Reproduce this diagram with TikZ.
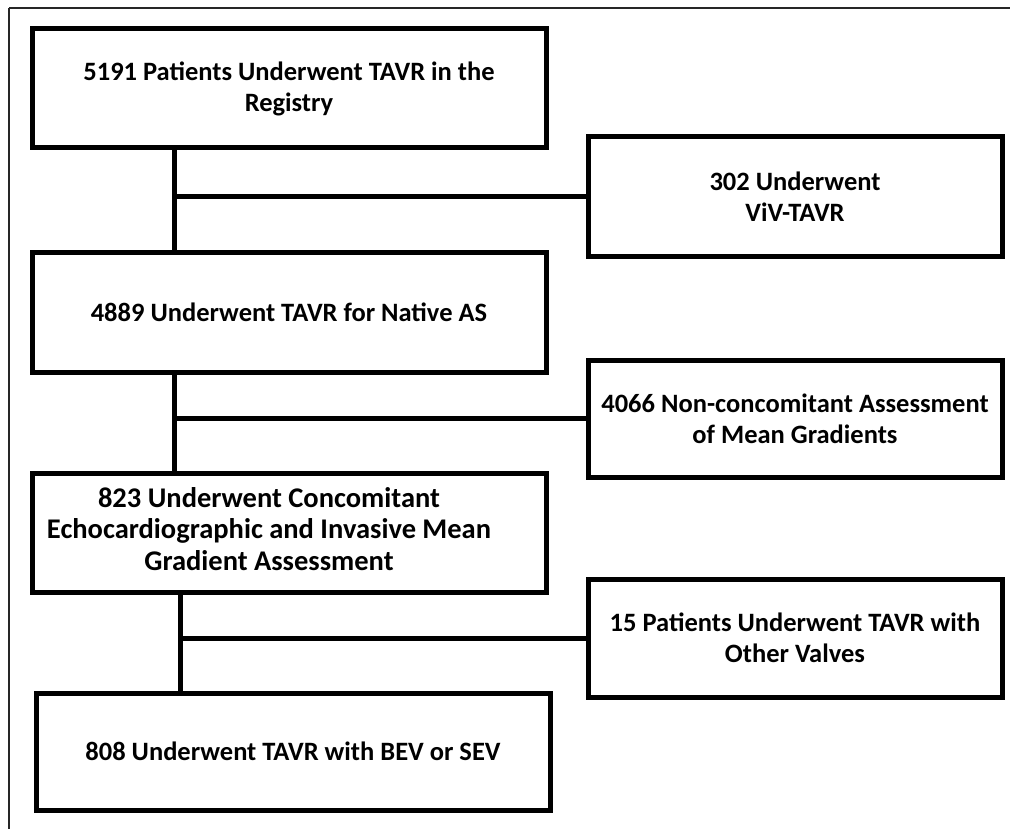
\documentclass[tikz,border=0pt]{standalone}
\usepackage{fontspec}
\setmainfont{Carlito}
\begin{document}
\begin{tikzpicture}[x=1pt,y=-1pt,
  box/.style={draw=black, line width=5pt, rectangle, inner sep=0pt, align=center,
    font=\bfseries\fontsize{26.5}{31}\selectfont},
  wide/.style={box, minimum width=514pt, minimum height=119pt},
  side/.style={box, minimum width=414pt, minimum height=118pt},
  conn/.style={draw=black, line width=5pt},
  frame/.style={draw=black!85}]
\useasboundingbox (0,0) rectangle (1010,829);
\fill[white] (0,0) rectangle (1010,829);
% outer frame (top and left only)
\draw[frame, line width=2.5pt] (9,8) -- (1010,8);
\draw[frame, line width=1.5pt] (9,8) -- (9,829);
% boxes
\node[wide] (b1) at (289,88.5) {5191 Patients Underwent TAVR in the\\Registry};
\node[side, minimum height=120pt] (b2) at (795,197) {302 Underwent\\ViV-TAVR};
\node[wide] (b3) at (289,312.5) {4889 Underwent TAVR for Native AS};
\node[side, minimum height=117pt] (b4) at (795,418.5) {4066 Non-concomitant Assessment\\of Mean Gradients};
\node[wide, font=\bfseries\fontsize{28.5}{31.5}\selectfont] (b5) at (289,532.5)
  {\begin{tabular}{@{}c@{}}823 Underwent Concomitant\\Echocardiographic and Invasive Mean\\Gradient Assessment\end{tabular}\hspace*{40pt}};
\node[side] (b6) at (795,638) {15 Patients Underwent TAVR with\\Other Valves};
\node[wide, minimum height=117pt] (b7) at (293,751.5) {808 Underwent TAVR with BEV or SEV};
% junctions
\coordinate (j1) at (174,197);
\coordinate (j2) at (174,418.5);
\coordinate (j3) at (180,638);
\draw[conn] (j1 |- b1.south) -- (j1 |- b3.north);
\draw[conn] (j1) -- (b2.west);
\draw[conn] (j2 |- b3.south) -- (j2 |- b5.north);
\draw[conn] (j2) -- (b4.west);
\draw[conn] (j3 |- b5.south) -- (j3 |- b7.north);
\draw[conn] (j3) -- (b6.west);
\end{tikzpicture}
\end{document}
